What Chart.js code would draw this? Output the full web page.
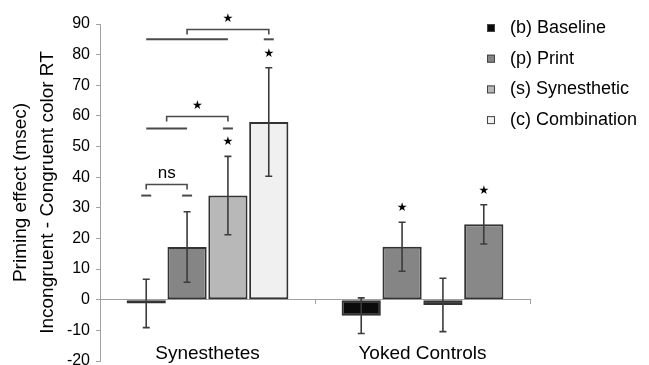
<!DOCTYPE html>
<html><head><meta charset="utf-8">
<script src="https://cdn.jsdelivr.net/npm/chart.js@4.4.1/dist/chart.umd.min.js"></script>
<style>html,body{margin:0;padding:0;background:#fff}#wrap{width:649px;height:365px;position:relative}</style>
</head><body><div id="wrap"><canvas id="c"></canvas></div>
<script>
// ---- data ----
const categories = ['Synesthetes', 'Yoked Controls'];
const seriesNames = ['(b) Baseline', '(p) Print', '(s) Synesthetic', '(c) Combination'];
const baseline = [-1.2, -5.2];
const print = [17.2, 17.3];
const synesthetic = [34, -1.7];
const combination = [58, 24.6];
const baselineErr = [7.9, 5.8];
const printErr = [11.5, 8];
const synestheticErr = [12.8, 8.7];
const combinationErr = [17.7, 6.4];
const yMin = -20, yMax = 90, yStep = 10;
const yTitle = ['Priming effect (msec)', 'Incongruent - Congruent color RT'];
// significance stars above error bars [series][group]
const starAbove = [[false, false], [false, true], [true, false], [true, true]];
// pairwise comparisons within Synesthetes (series index spans)
const compLeft = [[0, 0], [0, 1], [0, 2]];
const compRight = [[1, 1], [2, 2], [3, 3]];
const compLineY = [34, 55.9, 85];
const compBracketY = [37.6, 59.8, 88.2];
const compLabel = ['ns', '★', '★'];

const values = [baseline, print, synesthetic, combination];
const errors = [baselineErr, printErr, synestheticErr, combinationErr];
const fills = [['#0b0b0b', '#0b0b0b'], ['#858585', '#858585'], ['#b8b8b8', '#1a1a1a'], ['#f0f0f0', '#888888']];

const FONT = '"Liberation Sans", Arial, sans-serif';
Chart.defaults.font.family = FONT;
Chart.defaults.color = '#000';

const errorPlugin = {
  id: 'errbars',
  afterDatasetsDraw(chart) {
    const ctx = chart.ctx, ys = chart.scales.y;
    ctx.save();
    ctx.strokeStyle = '#3c3c3c';
    ctx.lineWidth = 1.6;
    chart.data.datasets.forEach((ds, i) => {
      const meta = chart.getDatasetMeta(i);
      meta.data.forEach((bar, g) => {
        const v = values[i][g], e = errors[i][g];
        const yt = ys.getPixelForValue(v + e), yb = ys.getPixelForValue(v - e);
        ctx.beginPath();
        ctx.moveTo(bar.x, yt); ctx.lineTo(bar.x, yb);
        ctx.moveTo(bar.x - 3.5, yt); ctx.lineTo(bar.x + 3.5, yt);
        ctx.moveTo(bar.x - 3.5, yb); ctx.lineTo(bar.x + 3.5, yb);
        ctx.stroke();
        if (starAbove[i][g]) {
          ctx.fillStyle = '#000';
          ctx.font = '12px "DejaVu Sans"';
          ctx.textAlign = 'center'; ctx.textBaseline = 'middle';
          ctx.fillText('★', bar.x, yt - 14);
        }
      });
    });
    // comparisons
    const cx = (s) => chart.getDatasetMeta(s).data[0].x;
    const span = (sp, py) => {
      const x1 = cx(sp[0]), x2 = cx(sp[1]);
      ctx.beginPath();
      if (sp[0] === sp[1]) { ctx.moveTo(x1 - 5, py); ctx.lineTo(x1 + 5, py); }
      else { ctx.moveTo(x1, py); ctx.lineTo(x2, py); }
      ctx.stroke();
      return (x1 + x2) / 2;
    };
    compLeft.forEach((L, k) => {
      ctx.strokeStyle = '#4a4a4a';
      ctx.lineWidth = 2;
      const py = ys.getPixelForValue(compLineY[k]);
      const m1 = span(L, py), m2 = span(compRight[k], py);
      const by = ys.getPixelForValue(compBracketY[k]);
      ctx.lineWidth = 1.6;
      ctx.beginPath();
      ctx.moveTo(m1, by + 5); ctx.lineTo(m1, by); ctx.lineTo(m2, by); ctx.lineTo(m2, by + 5);
      ctx.stroke();
      ctx.fillStyle = '#000';
      ctx.textAlign = 'center'; ctx.textBaseline = 'middle';
      if (compLabel[k] === 'ns') { ctx.font = '17px ' + FONT; ctx.fillText('ns', (m1 + m2) / 2, by - 11); }
      else { ctx.font = '12px "DejaVu Sans"'; ctx.fillText(compLabel[k], (m1 + m2) / 2, by - 11); }
    });
    ctx.restore();
  }
};

const legendPlugin = {
  id: 'sideLegend',
  afterDraw(chart) {
    const ctx = chart.ctx;
    ctx.save();
    ctx.font = '18px ' + FONT;
    ctx.textBaseline = 'middle';
    ctx.textAlign = 'left';
    chart.data.datasets.forEach((ds, i) => {
      const y = 28 + i * 30.7;
      ctx.fillStyle = ds.backgroundColor[0];
      ctx.fillRect(487, y - 4, 8, 8);
      ctx.strokeStyle = '#444'; ctx.lineWidth = 1;
      ctx.strokeRect(487.5, y - 3.5, 7, 7);
      ctx.fillStyle = '#000';
      ctx.fillText(ds.label, 510, y);
    });
    ctx.restore();
  }
};

new Chart(document.getElementById('c'), {
  type: 'bar',
  data: {
    labels: categories,
    datasets: seriesNames.map((n, i) => ({
      label: n,
      data: values[i],
      backgroundColor: fills[i],
      borderColor: '#333',
      borderWidth: 2,
      borderSkipped: false,
      barPercentage: 0.96,
      categoryPercentage: 0.76
    }))
  },
  options: {
    responsive: true,
    maintainAspectRatio: false,
    animation: false,
    layout: { padding: { left: 0, right: 119, top: 24, bottom: 4 } },
    plugins: { legend: { display: false }, tooltip: { enabled: false } },
    scales: {
      x: {
        position: { y: 0 },
        offset: true,
        grid: { drawOnChartArea: false, offset: true, tickLength: 4, color: '#a0a0a0' },
        border: { color: '#a0a0a0', width: 1 },
        ticks: { font: { size: 19 }, color: '#000', padding: 39 },
        afterFit(s) { s.paddingTop = 0; s.paddingBottom = 0; s.paddingLeft = 0; s.paddingRight = 0; }
      },
      y: {
        min: yMin, max: yMax,
        ticks: { stepSize: yStep, font: { size: 16 }, color: '#000', padding: 6 },
        grid: { drawOnChartArea: false, tickLength: 4, color: '#a0a0a0' },
        border: { color: '#a0a0a0', width: 1 },
        title: { display: true, text: yTitle, font: { size: 19, lineHeight: 1.42 }, color: '#000', padding: { top: 7, bottom: 0 } },
        afterFit(s) { s.width = 100; s.paddingTop = 0; s.paddingBottom = 0; }
      }
    }
  },
  plugins: [errorPlugin, legendPlugin]
});
</script></body></html>
